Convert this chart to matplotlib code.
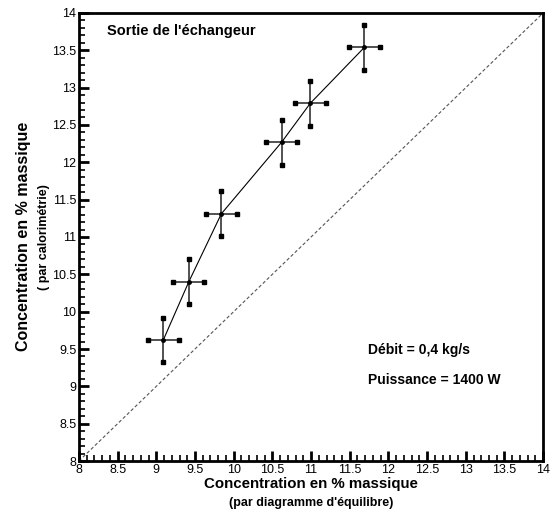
import matplotlib.pyplot as plt
import numpy as np
from matplotlib.ticker import MultipleLocator

plt.rcParams['font.family'] = ['Liberation Sans', 'DejaVu Sans']

## Measured points (equilibrium diagram vs calorimetry)
conc_diag = [9.09, 9.42, 9.84, 10.62, 10.99, 11.69]
conc_calo = [9.62, 10.40, 11.31, 12.27, 12.79, 13.54]
err_x = 0.2
err_y = 0.3

x = np.array(conc_diag)
y = np.array(conc_calo)

fig = plt.figure(figsize=(5.52, 5.18), dpi=100)
ax = fig.add_axes([0.143, 0.110, 0.841, 0.865])

# y = x reference
ax.plot([8, 14], [8, 14], color='#555555', linestyle=(0, (3, 2)), linewidth=0.8)

ax.plot(x, y, color='black', linewidth=0.8)
ax.errorbar(x, y, xerr=err_x, yerr=err_y, fmt='o', color='black', ecolor='#333333',
            markersize=2.5, elinewidth=1.2, capsize=0)
# square caps at the ends of the bars
ax.plot(np.r_[x - err_x, x + err_x], np.r_[y, y], 's', color='black', markersize=3.5)
ax.plot(np.r_[x, x], np.r_[y - err_y, y + err_y], 's', color='black', markersize=3.5)

ax.set_xlim(8, 14)
ax.set_ylim(8, 14)
ax.xaxis.set_major_locator(MultipleLocator(0.5))
ax.xaxis.set_minor_locator(MultipleLocator(0.1))
ax.yaxis.set_major_locator(MultipleLocator(0.5))
ax.yaxis.set_minor_locator(MultipleLocator(0.1))
ax.xaxis.set_major_formatter(plt.FuncFormatter(lambda v, p: ('%g' % v)))
ax.yaxis.set_major_formatter(plt.FuncFormatter(lambda v, p: ('%g' % v)))
ax.tick_params(which='both', direction='in', labelsize=9, width=1.2)
ax.tick_params(which='major', length=7, width=2)
ax.tick_params(which='minor', length=4)
ax.tick_params(axis='x', which='both', bottom=True, top=False, pad=2)
ax.tick_params(axis='y', which='both', left=True, right=False, pad=2)
for s in ax.spines.values():
    s.set_linewidth(2)

ax.text(0.06, 0.975, "Sortie de l'échangeur", transform=ax.transAxes,
        fontsize=10.5, fontweight='bold', va='top', ha='left')
ax.text(11.74, 9.49, "Débit = 0,4 kg/s", fontsize=10, fontweight='bold', va='center')
ax.text(11.74, 9.08, "Puissance = 1400 W", fontsize=10, fontweight='bold', va='center')

fig.text(0.563, 0.065, "Concentration en % massique", ha='center', va='center',
         fontsize=10.8, fontweight='bold')
fig.text(0.563, 0.028, "(par diagramme d'équilibre)", ha='center', va='center',
         fontsize=9, fontweight='bold')
fig.text(0.042, 0.543, "Concentration en % massique", ha='center', va='center',
         fontsize=11.5, fontweight='bold', rotation=90)
fig.text(0.080, 0.543, "( par calorimétrie)", ha='center', va='center',
         fontsize=9, fontweight='bold', rotation=90)

fig.savefig('out.png', dpi=100)
